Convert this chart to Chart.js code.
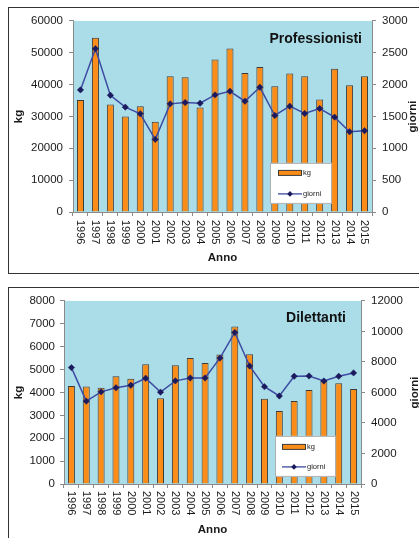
<!DOCTYPE html>
<html>
<head>
<meta charset="utf-8">
<script src="https://cdn.jsdelivr.net/npm/chart.js@4/dist/chart.umd.min.js"></script>
<style>
  html, body { margin: 0; padding: 0; background: #fff; overflow: hidden; width: 419px; height: 538px; }
  .box { position: absolute; border: 1px solid #333; box-sizing: content-box; }
  canvas { position: absolute; }
</style>
</head>
<body>
<div class="box" style="left:8px; top:7px; width:500px; height:265px;"></div>
<div class="box" style="left:8px; top:287px; width:500px; height:300px;"></div>
<canvas id="c1" width="410" height="265" style="left:9px; top:8px;"></canvas>
<canvas id="c2" width="410" height="250" style="left:9px; top:288px;"></canvas>
<script>
// ---- data ----
const years = ['1996','1997','1998','1999','2000','2001','2002','2003','2004','2005',
               '2006','2007','2008','2009','2010','2011','2012','2013','2014','2015'];
const proKg = [35200, 54700, 33750, 30000, 33200, 28300, 42600, 42300, 32800, 47900,
               51350, 43650, 45500, 39500, 43500, 42600, 35300, 45000, 39800, 42600];
const proGiorni = [1917, 2563, 1833, 1646, 1542, 1140, 1698, 1718, 1708, 1838,
                   1895, 1739, 1958, 1515, 1661, 1546, 1625, 1489, 1260, 1276];
const dilKg = [4280, 4260, 4200, 4710, 4600, 5230, 3750, 5190, 5510, 5290,
               5660, 6880, 5670, 3730, 3190, 3630, 4110, 4500, 4400, 4150];
const dilGiorni = [7630, 5430, 6040, 6310, 6470, 6930, 6020, 6760, 6950, 6950,
                   8250, 9930, 7735, 6380, 5770, 7060, 7080, 6750, 7060, 7280];
const proTitle = 'Professionisti';
const dilTitle = 'Dilettanti';
const xTitle = 'Anno';
const yTitle = 'kg';
const y2Title = 'giorni';

// ---- style ----
const FONT = '"Liberation Sans", Arial, sans-serif';
Chart.defaults.font.family = FONT;
Chart.defaults.font.size = 11.5;
Chart.defaults.color = '#1a1a1a';
const BG = '#abdde9';
const ORANGE = '#fb8c17';
const BAR_BORDER = '#3a3a3a';
const LINE = '#3d4ba3';
const MARK = '#1b1a5e';
const AXIS = '#8a8a8a';

const customPlugin = {
  id: 'custom',
  beforeDraw(chart) {
    const {ctx, chartArea: a} = chart;
    ctx.save();
    ctx.fillStyle = BG;
    ctx.fillRect(a.left, a.top, a.right - a.left, a.bottom - a.top);
    ctx.restore();
  },
  afterDraw(chart) {
    const o = chart.options.plugins.custom;
    const {ctx, chartArea: a} = chart;
    const xs = chart.scales.x;
    ctx.save();
    // x tick labels rotated clockwise
    ctx.font = '11px ' + FONT;
    ctx.fillStyle = '#1a1a1a';
    ctx.textAlign = 'left';
    ctx.textBaseline = 'middle';
    xs.ticks.forEach((t, i) => {
      const x = xs.getPixelForTick(i);
      ctx.save();
      ctx.translate(x, xs.top + o.xLabelOffset);
      ctx.rotate(Math.PI / 2);
      ctx.fillText(xs.getLabelForValue(t.value), 0, 0);
      ctx.restore();
    });
    // right axis title
    ctx.font = 'bold 11.5px ' + FONT;
    ctx.textAlign = 'center';
    ctx.save();
    ctx.translate(o.y2TitleX, (a.top + a.bottom) / 2);
    ctx.rotate(-Math.PI / 2);
    ctx.fillText(y2Title, 0, 0);
    ctx.restore();
    // chart title inside plot
    ctx.font = 'bold 14px ' + FONT;
    ctx.textAlign = 'right';
    ctx.fillStyle = '#111';
    ctx.fillText(o.title, a.right - o.titleRight, a.top + o.titleDown);
    // legend
    const L = o.legend;
    const lx = a.left + L.dx, ly = a.top + L.dy;
    ctx.fillStyle = '#fff';
    ctx.fillRect(lx, ly, L.w, L.h);
    ctx.strokeStyle = '#b0b0b0';
    ctx.lineWidth = 1;
    ctx.strokeRect(lx + 0.5, ly + 0.5, L.w - 1, L.h - 1);
    const ds = chart.data.datasets;
    const barDs = ds.find(d => d.type === 'bar');
    const lineDs = ds.find(d => d.type === 'line');
    // bar swatch
    const sx = lx + L.sx, sw = 24;
    const y1 = ly + L.r1, y2 = ly + L.r2;
    ctx.fillStyle = ORANGE;
    ctx.fillRect(sx, y1 - 2.5, sw, 5);
    ctx.strokeStyle = BAR_BORDER;
    ctx.strokeRect(sx + 0.5, y1 - 2.5, sw - 1, 5);
    // line swatch
    ctx.strokeStyle = LINE;
    ctx.lineWidth = 1.3;
    ctx.beginPath();
    ctx.moveTo(sx, y2); ctx.lineTo(sx + sw, y2); ctx.stroke();
    ctx.fillStyle = MARK;
    ctx.beginPath();
    const mx = sx + sw / 2;
    ctx.moveTo(mx, y2 - 2.8); ctx.lineTo(mx + 2.8, y2); ctx.lineTo(mx, y2 + 2.8); ctx.lineTo(mx - 2.8, y2);
    ctx.closePath(); ctx.fill();
    ctx.font = '7.5px ' + FONT;
    ctx.fillStyle = '#222';
    ctx.textAlign = 'left';
    ctx.textBaseline = 'middle';
    ctx.fillText(barDs.label, sx + sw + 1, y1);
    ctx.fillText(lineDs.label, sx + sw + 1, y2);
    ctx.restore();
  }
};

const plainNum = v => String(v);

function makeChart(id, kg, giorni, cfg) {
  return new Chart(document.getElementById(id), {
    data: {
      labels: years,
      datasets: [
        {
          type: 'line', label: 'giorni', data: giorni, yAxisID: 'y2', order: 0,
          borderColor: LINE, borderWidth: 1.5, tension: 0,
          pointStyle: 'rectRot', pointRadius: 3.2, pointBackgroundColor: MARK,
          pointBorderColor: MARK, pointBorderWidth: 0.5
        },
        {
          type: 'bar', label: 'kg', data: kg, yAxisID: 'y', order: 1,
          backgroundColor: ORANGE, borderColor: BAR_BORDER, borderWidth: 1,
          categoryPercentage: 1.0, barPercentage: 0.47
        }
      ]
    },
    options: {
      responsive: false,
      animation: false,
      events: [],
      layout: { padding: { top: cfg.padTop, left: 0, right: 0, bottom: 0 } },
      plugins: {
        legend: { display: false },
        tooltip: { enabled: false },
        custom: cfg.custom
      },
      scales: {
        x: {
          type: 'category',
          offset: true,
          grid: { display: true, drawOnChartArea: false, drawTicks: true, tickLength: 4, offset: true, color: AXIS },
          border: { display: true, color: AXIS, width: 1 },
          ticks: { display: false },
          title: { display: true, text: xTitle, font: { weight: 'bold', size: 11.5 }, padding: { top: 0, bottom: cfg.xTitlePad } },
          afterFit: s => { s.height = cfg.xHeight; }
        },
        y: {
          position: 'left',
          min: 0, max: cfg.yMax,
          ticks: { stepSize: cfg.yStep, padding: cfg.yTickPad, font: { size: 11.5 }, callback: plainNum },
          grid: { drawOnChartArea: false, drawTicks: true, tickLength: 4, color: AXIS },
          border: { display: true, color: AXIS },
          title: { display: true, text: yTitle, font: { weight: 'bold', size: 11.5 }, padding: { top: 3, bottom: 0 } },
          afterFit: s => { s.width = cfg.yWidth; }
        },
        y2: {
          position: 'right',
          min: 0, max: cfg.y2Max,
          ticks: { stepSize: cfg.y2Step, padding: 6, font: { size: 11.5 }, callback: plainNum },
          grid: { drawOnChartArea: false, drawTicks: true, tickLength: 4, color: AXIS },
          border: { display: true, color: AXIS },
          afterFit: s => { s.width = cfg.y2Width; }
        }
      }
    },
    plugins: [customPlugin]
  });
}

makeChart('c1', proKg, proGiorni, {
  padTop: 12, xHeight: 61, xTitlePad: 8, yWidth: 64, y2Width: 47,
  yMax: 60000, yStep: 10000, y2Max: 3000, y2Step: 500, yTickPad: 6,
  custom: {
    xLabelOffset: 8, y2TitleX: 404, title: proTitle, titleRight: 10, titleDown: 18,
    legend: { dx: 197, dy: 142, w: 62, h: 41, sx: 8, r1: 10, r2: 31 }
  }
});

makeChart('c2', dilKg, dilGiorni, {
  padTop: 11, xHeight: 54, xTitlePad: 1, yWidth: 55, y2Width: 58,
  yMax: 8000, yStep: 1000, y2Max: 12000, y2Step: 2000, yTickPad: 5,
  custom: {
    xLabelOffset: 7, y2TitleX: 406, title: dilTitle, titleRight: 15, titleDown: 17,
    legend: { dx: 211, dy: 135, w: 61, h: 41, sx: 7, r1: 11, r2: 31 }
  }
});
</script>
</body>
</html>
